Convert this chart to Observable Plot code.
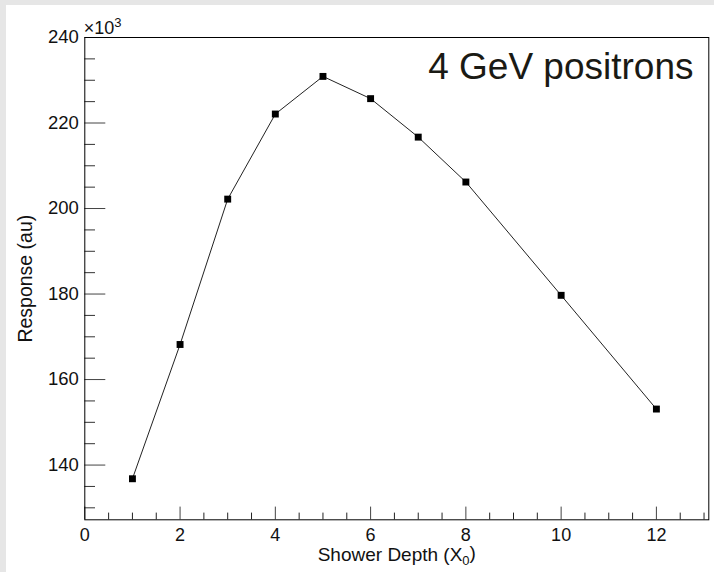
<!DOCTYPE html>
<html>
<head>
<meta charset="utf-8">
<script src="https://cdn.jsdelivr.net/npm/d3@7"></script>
<script src="https://cdn.jsdelivr.net/npm/@observablehq/plot@0.6"></script>
<style>
  html, body { margin: 0; padding: 0; background: #e6e6e6; width: 714px; height: 572px; overflow: hidden; }
  #chart { position: absolute; left: 6px; top: 5px; }
  #chart svg { display: block; }
</style>
</head>
<body>
<div id="chart"></div>
<script>
// Shower depth in radiation lengths (X0)
const depth = [1, 2, 3, 4, 5, 6, 7, 8, 10, 12];
// Response (au), in units of 10^3
const response = [136.8, 168.2, 202.2, 222.1, 230.9, 225.7, 216.7, 206.2, 179.7, 153.1];

const xMajorTicks = [0, 2, 4, 6, 8, 10, 12];
const xMinorTicks = [0.5, 1, 1.5, 2.5, 3, 3.5, 4.5, 5, 5.5, 6.5, 7, 7.5, 8.5, 9, 9.5, 10.5, 11, 11.5, 12.5, 13];
const yMajorTicks = [140, 160, 180, 200, 220, 240];
const yMinorTicks = [130, 135, 145, 150, 155, 165, 170, 175, 185, 190, 195, 205, 210, 215, 225, 230, 235];

const xTitle = "Shower Depth (X0)";
const yTitle = "Response (au)";
const exponentLabel = "×103";
const annotation = "4 GeV positrons";

const data = depth.map((d, i) => ({depth: d, response: response[i]}));

const font = "'Liberation Sans', Arial, Helvetica, sans-serif";
const noText = () => "";

const chart = Plot.plot({
  width: 708,
  height: 567,
  marginLeft: 78.3,
  marginTop: 32,
  marginRight: 5.7,
  marginBottom: 52.7,
  style: {background: "white", fontFamily: font, color: "black", overflow: "visible"},
  x: {domain: [0, 13.1]},
  y: {domain: [127.2, 240]},
  marks: [
    Plot.axisX({ticks: xMinorTicks, tickSize: -6.7, tickFormat: noText, label: null, stroke: "#222", anchor: "bottom"}),
    Plot.axisX({ticks: xMajorTicks, tickSize: -12.7, tickFormat: noText, label: null, stroke: "#444", anchor: "bottom"}),
    Plot.axisY({ticks: yMinorTicks, tickSize: -10.7, tickFormat: noText, label: null, stroke: "#333", anchor: "left"}),
    Plot.axisY({ticks: yMajorTicks, tickSize: -21, tickFormat: noText, label: null, stroke: "#444", anchor: "left"}),
    // tick labels
    Plot.text(xMajorTicks, {x: d => d, frameAnchor: "bottom", dy: 8.5, lineAnchor: "top", textAnchor: "middle", fontSize: 18, fill: "#111"}),
    Plot.text(yMajorTicks, {y: d => d, frameAnchor: "left", dx: -6, lineAnchor: "middle", textAnchor: "end", fontSize: 18.5, fill: "#111"}),
    Plot.frame({stroke: "black", strokeWidth: 1}),
    Plot.line(data, {x: "depth", y: "response", stroke: "#222", strokeWidth: 1}),
    Plot.dot(data, {x: "depth", y: "response", symbol: "square", r: 3.9, fill: "black", stroke: "none"}),
    Plot.text([xTitle], {frameAnchor: "bottom", dy: 41, lineAnchor: "bottom", textAnchor: "middle", fontSize: 19, fill: "#111"}),
    Plot.text([yTitle], {frameAnchor: "left", dx: -52.6, rotate: -90, lineAnchor: "bottom", textAnchor: "middle", fontSize: 19.5, fill: "#111"}),
    Plot.text([exponentLabel], {frameAnchor: "top-left", dx: -1, dy: -3.7, lineAnchor: "bottom", textAnchor: "start", fontSize: 18, fill: "#111"}),
    Plot.text([annotation], {frameAnchor: "top-right", dx: -15.3, dy: 41.3, lineAnchor: "bottom", textAnchor: "end", fontSize: 37, fill: "#1a1a14"})
  ]
});

document.getElementById("chart").appendChild(chart);

// Subscript / superscript formatting for titles
d3.select(chart).selectAll("text").each(function () {
  const t = this.textContent;
  const sel = d3.select(this);
  if (t === xTitle) {
    sel.text(null);
    sel.append("tspan").text("Shower Depth (X");
    sel.append("tspan").attr("dy", "0.3em").attr("font-size", "13px").text("0");
    sel.append("tspan").attr("dy", "-0.3em").text(")");
  } else if (t === exponentLabel) {
    sel.text(null);
    sel.append("tspan").text("×10");
    sel.append("tspan").attr("dy", "-0.5em").attr("font-size", "13px").text("3");
  }
});
</script>
</body>
</html>
